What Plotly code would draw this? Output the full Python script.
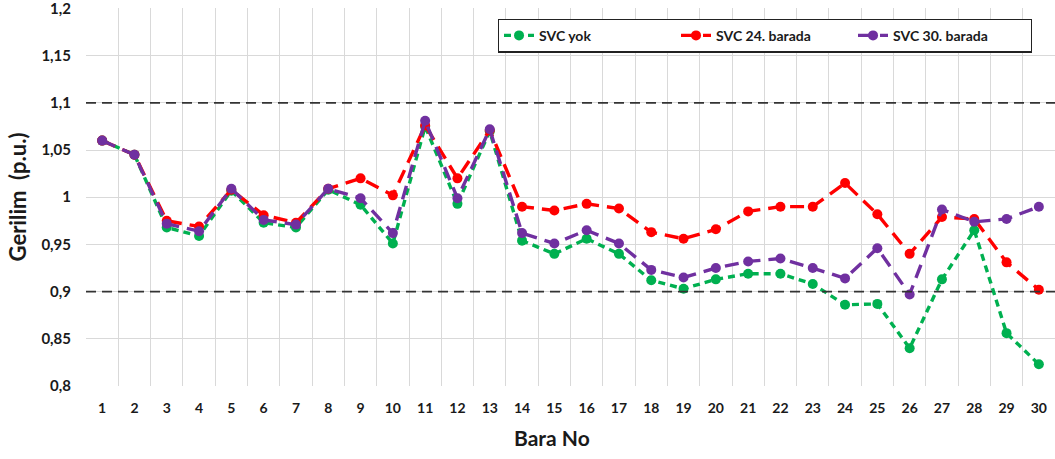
import plotly.graph_objects as go

bara_no = list(range(1, 31))
svc_yok = [1.060, 1.045, 0.968, 0.959, 1.007, 0.973, 0.968, 1.008, 0.992, 0.951,
           1.075, 0.993, 1.070, 0.954, 0.940, 0.956, 0.940, 0.912, 0.903, 0.913,
           0.919, 0.919, 0.908, 0.886, 0.887, 0.840, 0.913, 0.965, 0.856, 0.823]
svc_24 = [1.060, 1.045, 0.975, 0.969, 1.008, 0.981, 0.973, 1.009, 1.020, 1.002,
          1.076, 1.020, 1.071, 0.990, 0.986, 0.993, 0.988, 0.963, 0.956, 0.966,
          0.985, 0.990, 0.990, 1.015, 0.982, 0.940, 0.979, 0.977, 0.931, 0.902]
svc_30 = [1.060, 1.045, 0.972, 0.964, 1.009, 0.976, 0.971, 1.009, 0.999, 0.962,
          1.081, 0.999, 1.072, 0.962, 0.951, 0.965, 0.951, 0.923, 0.915, 0.925,
          0.932, 0.935, 0.925, 0.914, 0.946, 0.897, 0.987, 0.974, 0.977, 0.990]
limits = [1.1, 0.9]
y_ticks = [0.8, 0.85, 0.9, 0.95, 1.0, 1.05, 1.1, 1.15, 1.2]
y_tick_text = ["0,8", "0,85", "0,9", "0,95", "1", "1,05", "1,1", "1,15", "1,2"]

series = [
    ("SVC yok", svc_yok, "#00B050", "7px,5px"),
    ("SVC 24. barada", svc_24, "#FF0000", "14px,8px"),
    ("SVC 30. barada", svc_30, "#7030A0", "14px,8px"),
]

FONT = "Lato"
fig = go.Figure()
for name, vals, color, dash in series:
    fig.add_trace(go.Scatter(
        x=bara_no, y=vals, name=name, mode="lines+markers",
        line=dict(color=color, width=3.4, dash=dash),
        marker=dict(color=color, size=10, symbol="circle"),
    ))

for lim in limits:
    fig.add_shape(type="line", xref="paper", x0=0, x1=1, yref="y", y0=lim, y1=lim,
                  line=dict(color="#333333", width=1.6, dash="10px,6px"), layer="above")

fig.add_annotation(text="Bara No", xref="paper", yref="paper", x=0.481, y=-0.136,
                   xanchor="center", yanchor="middle", showarrow=False,
                   font=dict(family=FONT, size=21, weight="bold", color="#1a1a1a"))

fig.update_layout(
    width=1055, height=459,
    margin=dict(l=86, r=0, t=8, b=73),
    paper_bgcolor="white", plot_bgcolor="white",
    font=dict(family=FONT, color="#1a1a1a"),
    showlegend=True,
    legend=dict(
        orientation="h", x=0.425, y=0.972, xanchor="left", yanchor="top",
        bgcolor="white", bordercolor="#222222", borderwidth=1.2,
        font=dict(family=FONT, size=14, color="#1a1a1a", weight="bold"),
        entrywidth=132, entrywidthmode="pixels",
    ),
    xaxis=dict(
        range=[0.5, 30.5], tickmode="array", tickvals=bara_no,
        ticktext=[str(v) for v in bara_no], showgrid=False, zeroline=False,
        showline=False, ticks="", ticklabelstandoff=12,
        tickfont=dict(family=FONT, size=14, color="#1a1a1a", weight="bold"),
        minor=dict(tickmode="linear", tick0=0.5, dtick=1, showgrid=True,
                   gridcolor="#d9d9d9", gridwidth=1, ticks=""),
    ),
    yaxis=dict(
        range=[0.8, 1.2005], tickmode="array", tickvals=y_ticks, ticktext=y_tick_text,
        showgrid=True, gridcolor="#d9d9d9", gridwidth=1, zeroline=False,
        showline=False, ticks="", ticklabelstandoff=14, ticklabeloverflow="allow",
        tickfont=dict(family=FONT, size=15, color="#1a1a1a", weight="bold"),
        title=dict(text="Gerilim  (p.u.)", font=dict(family=FONT, size=22, weight="bold"), standoff=8),
    ),
)

fig.write_html("out.html", config={"displayModeBar": False},
               post_script="document.body.style.margin='0';document.body.style.overflow='hidden';")
